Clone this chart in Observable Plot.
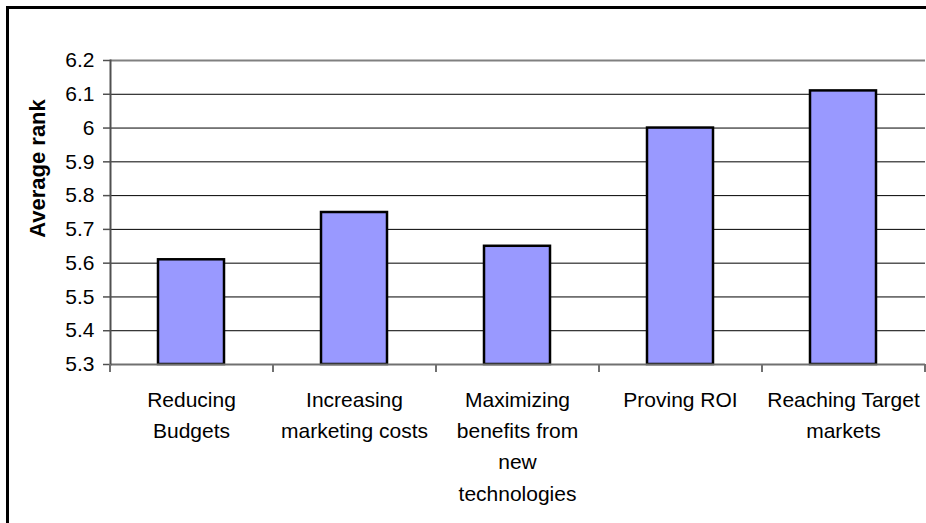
<!DOCTYPE html>
<html>
<head>
<meta charset="utf-8">
<script src="https://cdn.jsdelivr.net/npm/d3@7"></script>
<script src="https://cdn.jsdelivr.net/npm/@observablehq/plot@0.6"></script>
<style>
  html, body { margin: 0; padding: 0; background: #fff; overflow: hidden; }
  #chart svg { display: block; }
</style>
</head>
<body>
<div id="chart"></div>
<script>
const categories = ["Reducing Budgets", "Increasing marketing costs", "Maximizing benefits from new technologies", "Proving ROI", "Reaching Target markets"];
const tickLabels = ["Reducing\nBudgets", "Increasing\nmarketing costs", "Maximizing\nbenefits from\nnew\ntechnologies", "Proving ROI", "Reaching Target\nmarkets"];
const values = [5.61, 5.75, 5.65, 6.00, 6.11];
const yTicks = [5.3, 5.4, 5.5, 5.6, 5.7, 5.8, 5.9, 6.0, 6.1, 6.2];
const yTitle = "Average rank";

const data = categories.map((c, i) => ({category: c, value: values[i]}));

const W = 926, H = 523, mL = 110, mR = 1, mT = 60, mB = 159;
const step = (W - mL - mR) / categories.length;
const yMin = yTicks[0], yMax = yTicks[yTicks.length - 1];

const chart = Plot.plot({
  width: W, height: H,
  marginLeft: mL, marginRight: mR, marginTop: mT, marginBottom: mB,
  style: {fontFamily: "'Liberation Sans', Arial, sans-serif", fontSize: "21px", color: "#000", background: "transparent"},
  x: {domain: categories, paddingInner: 0.595, paddingOuter: 0.2975},
  y: {domain: [yMin, yMax]},
  marks: [
    Plot.ruleY(yTicks.slice(1, -1), {stroke: "#000", strokeWidth: 1}),
    Plot.ruleY([yMax], {stroke: "#808080", strokeWidth: 2}),
    Plot.barY(data, {x: "category", y1: yMin, y2: "value", fill: "#9999FF", stroke: "#000", strokeWidth: 2.5}),
    Plot.ruleY([yMin], {stroke: "#707070", strokeWidth: 2}),
    Plot.frame({anchor: "left", stroke: "#505050", strokeWidth: 2}),
    Plot.axisY({ticks: yTicks, tickSize: 7, tickPadding: 9, stroke: "#505050", strokeWidth: 1.5,
      tickFormat: d => String(+d.toFixed(1)), label: null, fontSize: 21}),
    Plot.axisX({ticks: categories, tickSize: 0, tickPadding: 20, label: null, fontSize: 21,
      lineHeight: 1.49, tickFormat: d => tickLabels[categories.indexOf(d)]}),
    Plot.axisX({ticks: categories, tickSize: 8, tickFormat: () => "", label: null, dx: -step / 2,
      stroke: "#707070", strokeWidth: 2}),
    Plot.axisX({ticks: categories.slice(-1), tickSize: 8, tickFormat: () => "", label: null, dx: step / 2,
      stroke: "#707070", strokeWidth: 2}),
    Plot.text([yTitle], {frameAnchor: "left", text: d => d, rotate: -90, dx: -73, dy: -44,
      textAnchor: "middle", fontWeight: "bold", fontSize: 22, fill: "#000"})
  ]
});
// outer chart-area border (left and top edges only, as in the reference crop)
d3.select(chart).append("path")
  .attr("d", `M7.5,${H}V7.5H${W}`)
  .attr("fill", "none").attr("stroke", "#000").attr("stroke-width", 3);
document.getElementById("chart").appendChild(chart);
</script>
</body>
</html>
